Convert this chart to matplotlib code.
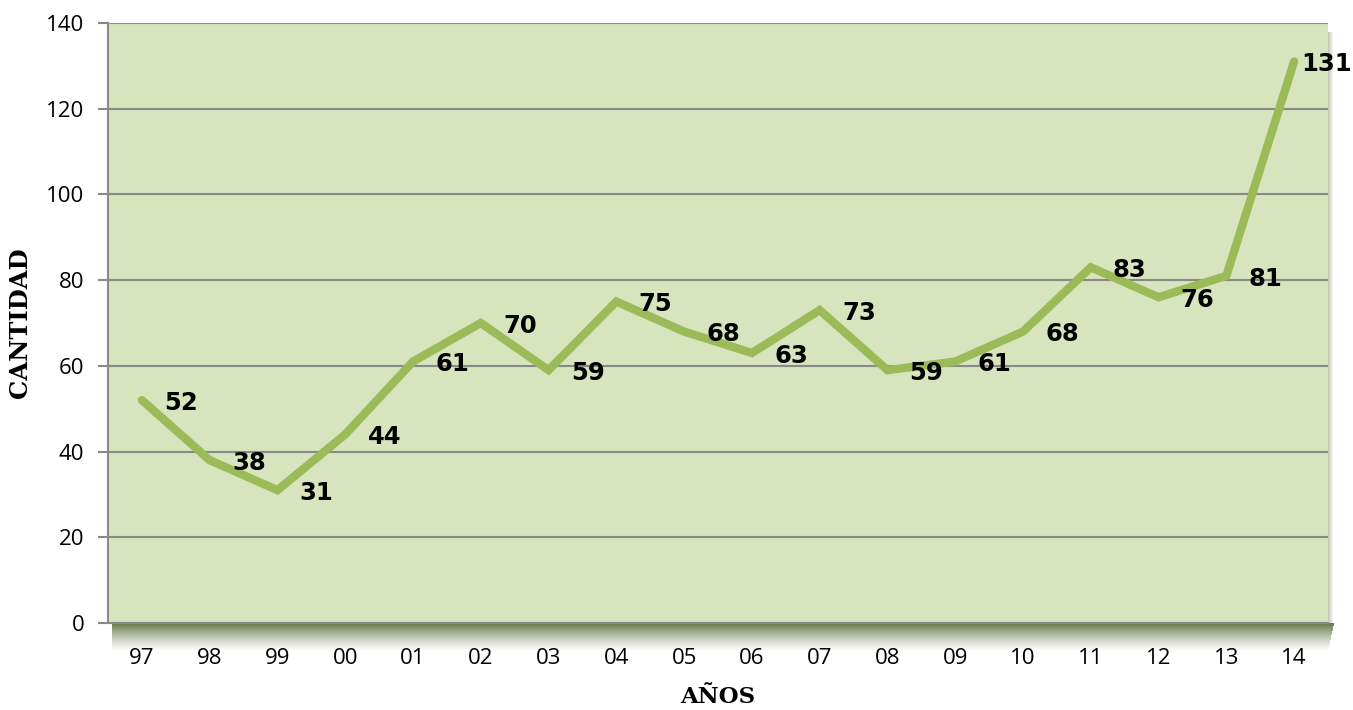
import numpy as np
import matplotlib.pyplot as plt
from matplotlib.patches import Rectangle

# data
years = ['97', '98', '99', '00', '01', '02', '03', '04', '05', '06',
         '07', '08', '09', '10', '11', '12', '13', '14']
cantidad = [52, 38, 31, 44, 61, 70, 59, 75, 68, 63,
            73, 59, 61, 68, 83, 76, 81, 131]
y_ticks = [0, 20, 40, 60, 80, 100, 120, 140]

fig = plt.figure(figsize=(13.53, 7.10), dpi=100)
ax = fig.add_axes([108 / 1353, 1 - 623 / 710, 1220 / 1353, 600 / 710])

ax.set_facecolor('#d7e4bd')
x = np.arange(len(years))

# shadow under the plot area (dark olive, fading downwards)
px_y = 1 / 600
px_x = 1 / 1220
n = 28
for i in range(n):
    t = i / n
    a = 0.85 * (1 - t) ** 1.3
    ax.add_patch(Rectangle((0.003, -(i + 1) * px_y), 1.0 - 0.003 + 6 * px_x * (1 - t), px_y,
                           transform=ax.transAxes, color='#4f6228', alpha=a,
                           lw=0, clip_on=False, zorder=0))
# faint shadow on the right edge
for i in range(5):
    a = 0.35 * (1 - i / 5)
    ax.add_patch(Rectangle((1.0 + i * px_x, 0.0), px_x, 0.985,
                           transform=ax.transAxes, color='#4f6228', alpha=a,
                           lw=0, clip_on=False, zorder=0))

ax.plot(x, cantidad, color='#9bbb59', lw=6, solid_capstyle='round',
        solid_joinstyle='miter', zorder=3)

for xi, v in zip(x, cantidad):
    # the last label is pulled in so it stays inside the picture
    dx = 5 if xi == x[-1] else 16
    ax.annotate(str(v), (xi, v), xytext=(dx, -2), textcoords='offset points',
                ha='left', va='center', fontsize=17.5, fontweight='bold',
                family='DejaVu Sans', color='black', zorder=4,
                annotation_clip=False)

ax.set_xlim(-0.5, len(years) - 0.5)
ax.set_ylim(0, 140)
ax.set_yticks(y_ticks)
ax.set_xticks(x)
ax.set_xticklabels(years)
ax.yaxis.grid(True, color='#898989', lw=1.5)
ax.set_axisbelow(True)

for s in ['top', 'right']:
    ax.spines[s].set_visible(False)
ax.spines['left'].set_color('#898989')
ax.spines['left'].set_linewidth(1.5)
ax.spines['bottom'].set_color('#898989')
ax.spines['bottom'].set_linewidth(1.5)

ax.tick_params(axis='y', length=7, width=1.5, color='#898989', pad=10,
               labelsize=16, labelcolor='black')
ax.tick_params(axis='x', length=0, pad=18, labelsize=16, labelcolor='black')
for lab in ax.get_xticklabels() + ax.get_yticklabels():
    lab.set_family('Open Sans')

ax.set_xlabel('AÑOS', family='DejaVu Serif', fontweight='bold', fontsize=16.5,
              labelpad=12)
ax.set_ylabel('CANTIDAD', family='DejaVu Serif', fontweight='bold', fontsize=17.5,
              labelpad=10)

fig.savefig('out.png', dpi=100)
